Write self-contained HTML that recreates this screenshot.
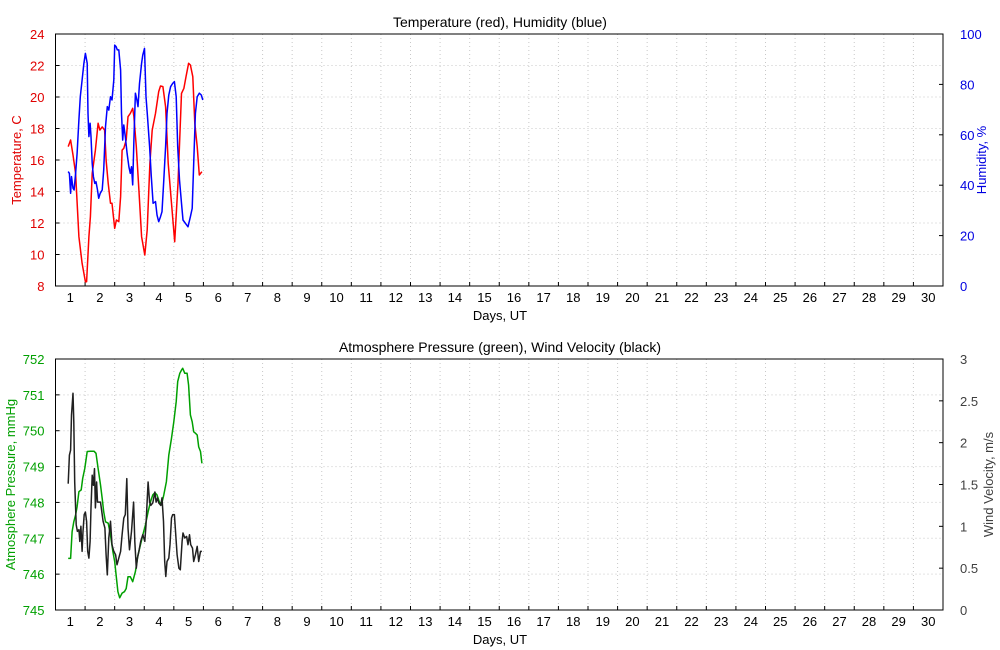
<!DOCTYPE html>
<html><head><meta charset="utf-8"><style>
body{margin:0;background:#fff;}
svg{display:block;font-family:"Liberation Sans",sans-serif;}
</style></head><body>
<svg id="chart" width="1000" height="650" viewBox="0 0 1000 650"></svg>
<script>
const tempDays=[0.43,0.51,0.59,0.68,0.79,0.90,1.01,1.05,1.13,1.18,1.24,1.35,1.44,1.50,1.58,1.66,1.71,1.78,1.86,1.91,2.00,2.06,2.14,2.20,2.25,2.31,2.39,2.45,2.53,2.61,2.65,2.73,2.82,2.91,3.02,3.10,3.19,3.27,3.38,3.49,3.55,3.63,3.72,3.81,3.92,4.03,4.14,4.26,4.34,4.41,4.50,4.56,4.64,4.71,4.79,4.86,4.95];
const tempVals=[16.85,17.27,16.32,15.15,11.13,9.44,8.27,8.27,11.13,12.4,15.15,16.63,18.33,17.9,18.1,17.9,16.0,14.52,13.25,13.25,11.66,12.19,12.08,13.67,16.63,16.74,17.27,18.75,18.96,19.28,18.75,16.85,14.1,11.13,9.97,11.56,15.79,17.9,18.96,20.34,20.7,20.66,19.38,15.79,13.25,10.81,14.52,20.23,20.55,21.29,22.14,22.03,21.29,18.33,16.85,15.05,15.26];
const humDays=[0.43,0.47,0.51,0.54,0.59,0.63,0.68,0.73,0.79,0.84,0.90,0.96,1.01,1.07,1.10,1.13,1.17,1.20,1.24,1.28,1.33,1.37,1.42,1.46,1.51,1.58,1.63,1.69,1.75,1.80,1.86,1.91,1.97,2.00,2.05,2.09,2.14,2.20,2.23,2.27,2.31,2.36,2.42,2.48,2.53,2.57,2.61,2.65,2.70,2.75,2.79,2.84,2.91,2.95,3.01,3.06,3.11,3.18,3.24,3.30,3.38,3.43,3.49,3.55,3.60,3.66,3.72,3.77,3.83,3.89,3.96,4.02,4.08,4.13,4.19,4.26,4.31,4.39,4.48,4.56,4.62,4.67,4.73,4.79,4.86,4.93,4.98];
const humVals=[45.4,44.7,36.8,43.4,38.8,38.1,44.7,52.6,65.9,75.1,81.7,88.4,92.3,88.4,68.5,59.3,64.6,59.3,48.7,43.4,40.7,41.4,38.1,34.8,36.8,38.1,46,63.2,71.2,69.8,75.1,73.8,81.7,95.6,95,93.7,93.7,85.7,68.5,57.9,63.9,59.3,52.6,47.3,44.7,47.3,40.1,57.9,76.5,73.8,71.2,80.4,88.4,91.7,94.3,75.1,67.2,55.3,43.4,32.8,33.5,28.2,25.5,27.5,29.5,42.1,55.3,68.5,75.8,79.1,80.4,81.1,75.1,55.3,42.1,32.8,26.2,24.9,23.5,27.5,30.8,48.7,68.5,75.1,76.5,75.8,73.8];
const presDays=[0.43,0.51,0.56,0.62,0.68,0.73,0.79,0.87,0.92,0.99,1.07,1.18,1.30,1.37,1.44,1.52,1.58,1.63,1.69,1.78,1.86,1.94,2.00,2.05,2.11,2.17,2.25,2.33,2.39,2.45,2.53,2.61,2.70,2.79,2.87,2.95,3.04,3.13,3.21,3.29,3.36,3.43,3.51,3.58,3.66,3.75,3.83,3.92,4.00,4.08,4.13,4.20,4.26,4.30,4.37,4.45,4.50,4.56,4.62,4.67,4.73,4.79,4.84,4.90,4.95];
const presVals=[746.44,746.44,747.18,747.46,747.65,747.88,748.30,748.35,748.67,748.95,749.42,749.43,749.43,749.37,748.95,748.49,748.11,747.74,747.46,747.42,747.09,746.63,746.35,745.98,745.51,745.34,745.47,745.51,745.60,745.93,745.93,745.79,746.07,746.53,746.81,747.09,747.37,747.74,748.02,748.21,748.27,748.21,748.02,747.93,748.21,748.58,749.32,749.79,750.25,750.81,751.37,751.60,751.69,751.74,751.60,751.60,751.27,750.44,750.25,749.97,749.93,749.88,749.55,749.42,749.09];
const windDays=[0.43,0.47,0.51,0.54,0.59,0.62,0.65,0.70,0.74,0.79,0.82,0.86,0.90,0.93,0.97,1.01,1.05,1.09,1.13,1.17,1.20,1.24,1.28,1.32,1.35,1.39,1.42,1.46,1.52,1.58,1.61,1.67,1.71,1.75,1.80,1.86,1.91,1.97,2.03,2.08,2.14,2.20,2.25,2.31,2.36,2.41,2.45,2.50,2.57,2.64,2.68,2.73,2.77,2.82,2.88,2.95,3.02,3.06,3.13,3.18,3.22,3.29,3.36,3.40,3.45,3.49,3.56,3.60,3.65,3.69,3.73,3.77,3.83,3.87,3.92,3.96,4.02,4.05,4.11,4.17,4.22,4.28,4.31,4.37,4.43,4.48,4.53,4.57,4.63,4.67,4.73,4.79,4.84,4.90,4.95];
const windVals=[1.51,1.85,1.91,2.33,2.59,2.25,1.53,1.02,0.94,0.96,0.82,1.00,0.70,0.94,1.14,1.17,1.06,0.70,0.62,0.82,1.22,1.61,1.49,1.69,1.22,1.53,1.29,1.29,1.29,1.14,1.06,0.98,0.66,0.42,0.86,1.06,0.78,0.70,0.66,0.54,0.62,0.70,0.90,1.10,1.14,1.57,0.98,0.72,0.94,1.29,0.82,0.50,0.62,0.70,0.82,0.90,0.82,1.02,1.53,1.29,1.25,1.28,1.41,1.29,1.34,1.28,1.25,1.34,1.06,0.58,0.40,0.58,0.62,0.78,1.10,1.14,1.14,0.98,0.66,0.50,0.48,0.82,0.92,0.86,0.88,0.78,0.90,0.78,0.74,0.58,0.66,0.76,0.58,0.70,0.70];
const tempTicks=[8,10,12,14,16,18,20,22,24];
const humTicks=[0,20,40,60,80,100];
const presTicks=[745,746,747,748,749,750,751,752];
const windTicks=[0,0.5,1,1.5,2,2.5,3];
const dayLabels=[1,2,3,4,5,6,7,8,9,10,11,12,13,14,15,16,17,18,19,20,21,22,23,24,25,26,27,28,29,30];

const NS="http://www.w3.org/2000/svg";
const svg=document.getElementById('chart');
const X0=55.5,X1=943;
function xScale(d){return X0+d*(X1-X0)/30;}
function mk(tag,attrs,parent){const e=document.createElementNS(NS,tag);for(const k in attrs)e.setAttribute(k,attrs[k]);(parent||svg).appendChild(e);return e;}
function txt(s,x,y,attrs){const e=mk('text',Object.assign({x:x,y:y},attrs));e.textContent=s;return e;}

function panel(p){
  const g=mk('g',{});
  
  
  const yL=v=>p.bot-(v-p.lmin)*(p.bot-p.top)/(p.lmax-p.lmin);
  const yR=v=>p.bot-(v-p.rmin)*(p.bot-p.top)/(p.rmax-p.rmin);
  // grid
  for(let k=1;k<30;k++){const x=xScale(k);const l=mk('line',{x1:x,x2:x,y1:p.top,y2:p.bot,stroke:'#c8c8c8','stroke-dasharray':'1,3'},g);
    }
  p.lt.forEach(v=>{const y=yL(v);if(y>p.top+1&&y<p.bot-1){const l=mk('line',{x1:X0,x2:X1,y1:y,y2:y,stroke:'#c8c8c8','stroke-dasharray':'1,3'},g);
    }});
  // frame
  const r=mk('rect',{x:X0,y:p.top,width:X1-X0,height:p.bot-p.top,fill:'none',stroke:'#000','stroke-width':1},g);
  
  // x ticks and labels
  for(let k=1;k<30;k++){const x=xScale(k);mk('line',{x1:x,x2:x,y1:p.bot,y2:p.bot-4,stroke:'#000'},g);}
  dayLabels.forEach(d=>{const t=txt(d,xScale(d-0.5),p.bot+16,{'font-size':13,'text-anchor':'middle',fill:'#000'});
    g.appendChild(t);});
  const xt=txt('Days, UT',500,p.bot+34,{'font-size':13,'text-anchor':'middle',fill:'#000'});
  g.appendChild(xt);
  // left ticks
  p.lt.forEach(v=>{const y=yL(v);mk('line',{x1:X0,x2:X0+4,y1:y,y2:y,stroke:'#000'},g);
    const t=txt(v,X0-11,y+5,{'font-size':13,'text-anchor':'end',fill:p.lc});
    g.appendChild(t);});
  p.rt.forEach(v=>{const y=yR(v);mk('line',{x1:X1,x2:X1-4,y1:y,y2:y,stroke:'#000'},g);
    const t=txt(v,X1+17,y+5,{'font-size':13,'text-anchor':'start',fill:p.rc});
    g.appendChild(t);});
  const mid=(p.top+p.bot)/2;
  const lt=txt(p.ltitle,0,0,{'font-size':13,'text-anchor':'middle',fill:p.lc,transform:`translate(${p.lx},${mid}) rotate(-90)`});
  g.appendChild(lt);
  const rtt=txt(p.rtitle,0,0,{'font-size':13,'text-anchor':'middle',fill:p.rc,transform:`translate(${p.rx},${mid}) rotate(-90)`});
  g.appendChild(rtt);
  const tt=txt(p.title,500,p.top-7,{'font-size':14,'text-anchor':'middle',fill:'#000'});
  g.appendChild(tt);
  // series
  function line(days,vals,ys,color,name){
    const n=Math.min(days.length,vals.length);let d='';
    for(let i=0;i<n;i++)d+=(i?'L':'M')+xScale(days[i]).toFixed(1)+','+ys(vals[i]).toFixed(1);
    const pth=mk('path',{d:d,fill:'none',stroke:color,'stroke-width':1.5,'stroke-linejoin':'round'},g);
    
  }
  line(p.ld,p.lv,yL,p.lcol,p.lname);
  line(p.rd,p.rv,yR,p.rcol,p.rname);
}
panel({name:'temperature-humidity-panel',top:34,bot:286,lmin:8,lmax:24,rmin:0,rmax:100,lt:tempTicks,rt:humTicks,
  lc:'#e00000',rc:'#0000e0',ltitle:'Temperature, C',rtitle:'Humidity, %',lx:21,rx:986,title:'Temperature (red), Humidity (blue)',
  ld:tempDays,lv:tempVals,lcol:'#ff0000',lname:'temperature-line',rd:humDays,rv:humVals,rcol:'#0000ff',rname:'humidity-line'});
panel({name:'pressure-wind-panel',top:359,bot:610,lmin:745,lmax:752,rmin:0,rmax:3,lt:presTicks,rt:windTicks,
  lc:'#00a000',rc:'#404040',ltitle:'Atmosphere Pressure, mmHg',rtitle:'Wind Velocity, m/s',lx:15,rx:993,title:'Atmosphere Pressure (green), Wind Velocity (black)',
  ld:presDays,lv:presVals,lcol:'#00a000',lname:'pressure-line',rd:windDays,rv:windVals,rcol:'#202020',rname:'wind-line'});
</script>
</body></html>
